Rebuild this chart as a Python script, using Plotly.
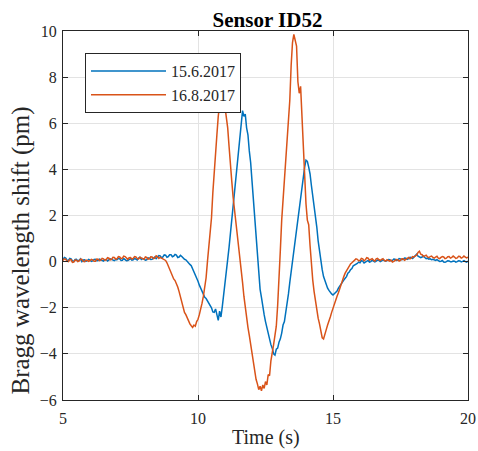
import plotly.graph_objects as go

# Time axis (s), 0.05 s steps from 5.00 to 20.00
t_start = 5.0
t_step = 0.05

# Sensor ID52, 15.6.2017 (pm)
shift_jun = [
    0.08, 0.18, 0.15, 0.06, 0.05, 0.14, 0.12, 0.03, 0.02, 0.09,
    0.10, 0.02, 0.06, 0.12, 0.00, 0.07, 0.08, 0.01, 0.04, 0.10,
    0.07, 0.01, 0.03, 0.09, 0.10, 0.04, 0.05, 0.11, 0.08, 0.03,
    0.02, 0.08, 0.09, 0.03, 0.06, 0.12, 0.10, 0.05, 0.04, 0.09,
    0.08, 0.14, 0.12, 0.05, 0.06, 0.13, 0.10, 0.04, 0.05, 0.11,
    0.13, 0.06, 0.08, 0.14, 0.10, 0.07, 0.15, 0.19, 0.09, 0.13,
    0.12, 0.06, 0.08, 0.16, 0.15, 0.09, 0.10, 0.17, 0.20, 0.13,
    0.18, 0.26, 0.25, 0.17, 0.20, 0.29, 0.28, 0.19, 0.22, 0.30,
    0.30, 0.21, 0.24, 0.31, 0.28, 0.18, 0.20, 0.27, 0.22, 0.15,
    0.10, 0.08, 0.00, -0.08, -0.12, -0.18, -0.30, -0.45, -0.55, -0.68,
    -0.85, -1.02, -1.15, -1.22, -1.40, -1.55, -1.60, -1.70, -1.80, -1.95,
    -2.00, -2.18, -2.20, -2.05, -2.35, -2.55, -2.15, -2.40, -1.95, -1.50,
    -0.80, -0.35, 0.10, 0.62, 1.20, 1.80, 2.35, 3.00, 3.60, 4.25,
    4.80, 5.40, 5.90, 6.55, 6.30, 6.40, 5.80, 5.50, 4.80, 4.30,
    3.50, 2.70, 1.80, 0.85, 0.00, -0.60, -1.20, -1.55, -2.00, -2.30,
    -2.60, -2.90, -3.10, -3.35, -3.60, -3.75, -4.00, -4.05, -3.80, -3.75,
    -3.50, -3.35, -3.10, -2.75, -2.60, -2.25, -1.80, -1.40, -0.90, -0.45,
    0.00, 0.55, 1.00, 1.45, 2.00, 2.45, 2.90, 3.25, 3.70, 4.10,
    4.40, 4.35, 4.10, 3.80, 3.30, 2.90, 2.40, 1.90, 1.50, 0.90,
    0.40, 0.00, -0.35, -0.65, -0.85, -1.00, -1.15, -1.25, -1.35, -1.40,
    -1.45, -1.38, -1.35, -1.28, -1.15, -1.05, -0.95, -0.88, -0.80, -0.72,
    -0.65, -0.50, -0.45, -0.35, -0.30, -0.18, -0.15, -0.12, -0.08, -0.02,
    -0.05, 0.04, 0.02, -0.06, -0.03, 0.03, 0.05, -0.02, 0.00, 0.06,
    0.04, -0.01, 0.02, 0.07, 0.06, 0.00, 0.03, 0.08, 0.05, 0.02,
    0.04, 0.09, 0.08, 0.03, 0.05, 0.11, 0.10, 0.05, 0.07, 0.13,
    0.12, 0.08, 0.10, 0.16, 0.15, 0.10, 0.13, 0.19, 0.18, 0.14,
    0.20, 0.26, 0.32, 0.24, 0.22, 0.17, 0.20, 0.24, 0.18, 0.13,
    0.15, 0.11, 0.12, 0.08, 0.10, 0.06, 0.05, 0.09, 0.03, 0.01,
    0.02, 0.05, -0.02, -0.03, 0.00, 0.04, 0.03, -0.01, -0.01, 0.03,
    0.02, -0.02, 0.00, 0.04, 0.03, -0.01, 0.01, 0.04, 0.00, -0.02,
    0.02,
]

# Sensor ID52, 16.8.2017 (pm)
shift_aug = [
    0.05, 0.12, 0.10, 0.02, 0.00, 0.09, 0.08, -0.03, -0.02, 0.07,
    0.06, 0.00, 0.03, 0.11, 0.10, 0.01, 0.00, 0.07, 0.05, 0.01,
    0.04, 0.10, 0.08, 0.02, 0.02, 0.11, 0.10, 0.04, 0.06, 0.14,
    0.12, 0.06, 0.08, 0.17, 0.15, 0.08, 0.10, 0.19, 0.18, 0.11,
    0.12, 0.22, 0.20, 0.13, 0.15, 0.24, 0.22, 0.14, 0.10, 0.17,
    0.18, 0.11, 0.14, 0.22, 0.20, 0.13, 0.12, 0.19, 0.16, 0.10,
    0.10, 0.20, 0.18, 0.11, 0.12, 0.21, 0.20, 0.13, 0.15, 0.25,
    0.22, 0.14, 0.18, 0.15, 0.12, 0.10, 0.05, -0.05, -0.20, -0.32,
    -0.50, -0.58, -0.75, -0.82, -0.95, -1.10, -1.30, -1.55, -1.80, -2.00,
    -2.20, -2.30, -2.45, -2.55, -2.70, -2.78, -2.85, -2.75, -2.80, -2.60,
    -2.50, -2.30, -2.10, -1.80, -1.50, -1.10, -0.70, 0.00, 0.60, 1.20,
    1.90, 3.00, 4.00, 4.70, 5.50, 6.30, 6.80, 7.30, 7.10, 6.60,
    6.70, 6.20, 5.80, 5.00, 4.40, 3.50, 2.80, 2.30, 1.80, 1.30,
    0.80, 0.25, -0.30, -0.90, -1.50, -2.00, -2.50, -2.85, -3.20, -3.60,
    -4.00, -4.40, -4.80, -5.10, -5.30, -5.55, -5.40, -5.60, -5.35, -5.50,
    -5.20, -5.35, -4.90, -4.95, -4.30, -4.00, -3.60, -3.20, -2.80, -1.90,
    -0.90, 0.50, 1.80, 2.60, 3.80, 4.30, 5.20, 5.90, 7.00, 8.50,
    9.50, 9.85, 9.60, 9.35, 7.80, 7.30, 7.60, 6.20, 4.60, 3.40,
    2.50, 1.80, 1.60, 0.70, -0.25, -0.80, -1.30, -1.75, -2.15, -2.45,
    -2.70, -3.00, -3.30, -3.35, -3.10, -2.95, -2.75, -2.60, -2.40, -2.20,
    -2.00, -1.85, -1.70, -1.50, -1.35, -1.15, -1.00, -0.80, -0.65, -0.50,
    -0.40, -0.28, -0.20, -0.10, -0.05, 0.02, 0.05, 0.12, 0.10, 0.04,
    0.05, 0.14, 0.12, 0.04, 0.08, 0.17, 0.15, 0.06, 0.10, 0.13,
    0.06, 0.02, 0.12, 0.14, 0.08, 0.05, 0.10, 0.13, 0.05, 0.02,
    0.08, 0.05, 0.02, 0.07, -0.02, 0.01, 0.04, 0.09, 0.08, 0.02,
    0.05, 0.12, 0.12, 0.06, 0.10, 0.16, 0.18, 0.12, 0.15, 0.22,
    0.20, 0.25, 0.28, 0.40, 0.45, 0.32, 0.30, 0.22, 0.25, 0.28,
    0.20, 0.17, 0.22, 0.24, 0.18, 0.15, 0.20, 0.23, 0.15, 0.13,
    0.18, 0.22, 0.20, 0.13, 0.15, 0.21, 0.22, 0.15, 0.18, 0.24,
    0.20, 0.14, 0.16, 0.23, 0.22, 0.15, 0.18, 0.24, 0.20, 0.16,
    0.20,
]

series_names = ["15.6.2017", "16.8.2017"]
series_colors = ["#0072BD", "#D95319"]

x_ticks = [5, 10, 15, 20]
y_ticks = [-6, -4, -2, 0, 2, 4, 6, 8, 10]

time = [round(t_start + i * t_step, 3) for i in range(len(shift_jun))]

FONT = "Liberation Serif, Times New Roman, serif"
AX = "#262626"

fig = go.Figure()
for name, vals, col in zip(series_names, [shift_jun, shift_aug], series_colors):
    fig.add_trace(go.Scatter(x=time, y=vals, mode="lines", name=name,
                             line=dict(color=col, width=1.5)))

axis_common = dict(
    showgrid=True, gridcolor="#e3e3e3", gridwidth=1,
    showline=True, linecolor=AX, linewidth=1, mirror="ticks",
    ticks="inside", ticklen=5, tickcolor=AX, tickwidth=1,
    zeroline=False, automargin=False,
    tickfont=dict(family=FONT, size=16, color=AX),
)

fig.update_xaxes(range=[5, 20], tickvals=x_ticks, ticklabelstandoff=4, **axis_common)
fig.update_yaxes(range=[-6, 10], tickvals=y_ticks, ticklabelstandoff=2, **axis_common)

fig.update_layout(
    width=478, height=451, autosize=False,
    margin=dict(l=63, r=10, t=31, b=51, autoexpand=False),
    plot_bgcolor="white", paper_bgcolor="white",
    showlegend=True,
    title=dict(text="<b>Sensor ID52</b>", font=dict(family=FONT, size=21, color="black"),
               x=(63 + 468) / 2 / 478 + 2 / 478, xanchor="center", xref="container",
               y=1 - 20 / 451, yanchor="middle", yref="container"),
    legend=dict(x=(85 - 63) / 405, y=(400 - 53) / 369, xanchor="left", yanchor="top",
                bgcolor="white", bordercolor=AX, borderwidth=1,
                font=dict(family=FONT, size=16, color=AX),
                itemwidth=75, tracegroupgap=0),
    annotations=[
        dict(text="Time (s)", xref="paper", yref="paper", x=0.5, y=-38 / 369,
             xanchor="center", yanchor="middle", showarrow=False,
             font=dict(family=FONT, size=20, color=AX)),
        dict(text="Bragg wavelength shift (pm)", xref="paper", yref="paper",
             x=-42 / 405, y=0.5 - 35 / 369, xanchor="center", yanchor="middle",
             textangle=-90, showarrow=False,
             font=dict(family=FONT, size=25, color=AX)),
    ],
)

fig.write_html("out.html",
               config={"displayModeBar": False},
               post_script="document.body.style.margin='0';document.body.style.padding='0';")
